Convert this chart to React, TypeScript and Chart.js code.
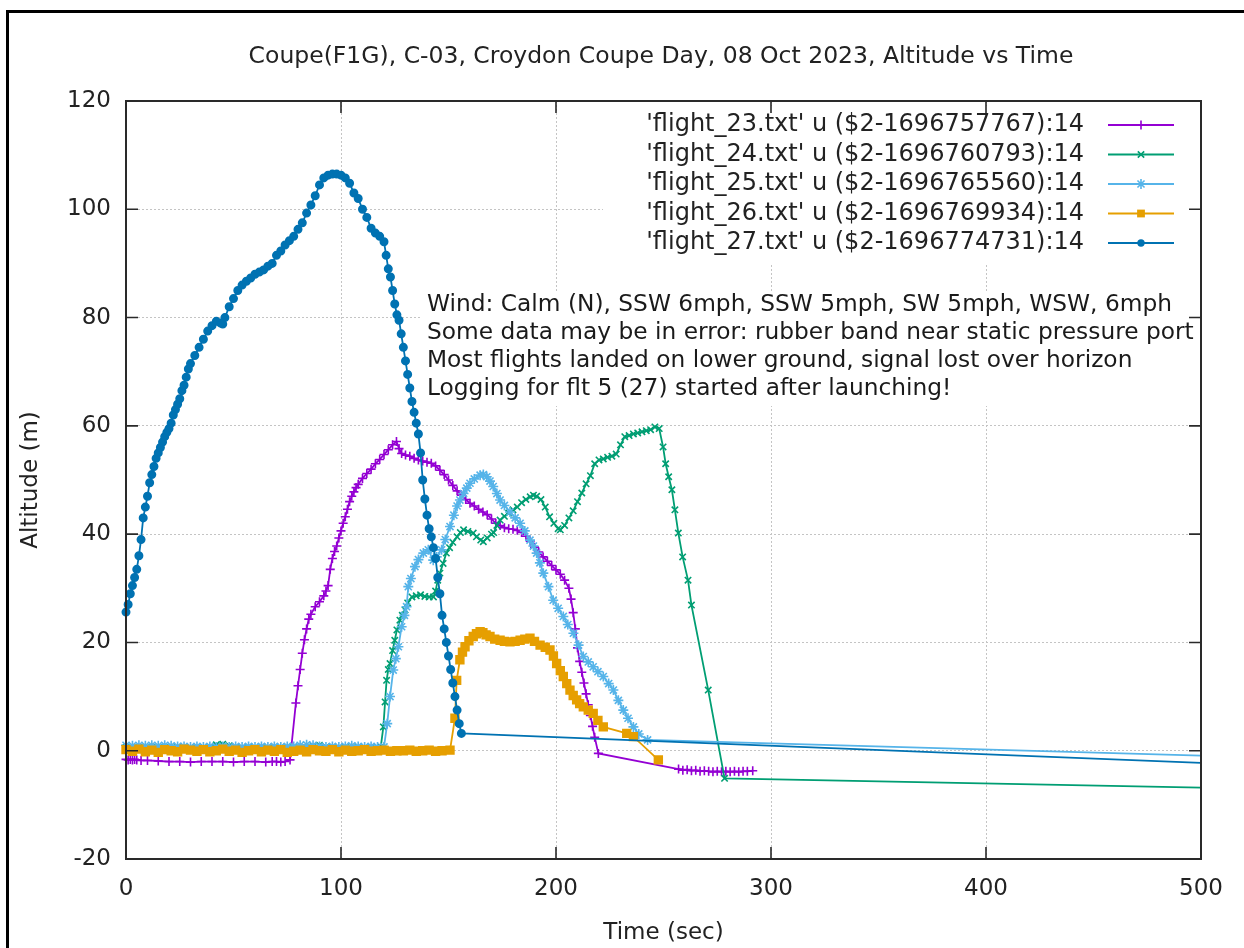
import React, { useEffect, useRef } from 'react';
import { Chart, registerables } from 'chart.js';

Chart.register(...registerables);

const FONT = '"DejaVu Sans", "Liberation Sans", sans-serif';

const titleText = 'Coupe(F1G), C-03, Croydon Coupe Day, 08 Oct 2023, Altitude vs Time';
const xTitle = 'Time (sec)';
const yTitle = 'Altitude (m)';
const noteLines = [
  'Wind: Calm (N), SSW 6mph, SSW 5mph, SW 5mph, WSW, 6mph',
  'Some data may be in error: rubber band near static pressure port',
  'Most flights landed on lower ground, signal lost over horizon',
  'Logging for flt 5 (27) started after launching!',
];
const seriesLabels = [
  "'flight_23.txt' u ($2-1696757767):14",
  "'flight_24.txt' u ($2-1696760793):14",
  "'flight_25.txt' u ($2-1696765560):14",
  "'flight_26.txt' u ($2-1696769934):14",
  "'flight_27.txt' u ($2-1696774731):14",
];
const seriesColors = ['#9400d3', '#009e73', '#56b4e9', '#e69f00', '#0072b2'];
const seriesMarkers = ['cross', 'crossRot', 'star', 'rect', 'circle'];
const markerRadii = [4.5, 4.5, 5, 5.5, 3.7];
const xTicks = [0, 100, 200, 300, 400, 500];
const yTicks = [-20, 0, 20, 40, 60, 80, 100, 120];

// [time (s), altitude (m)]
const flight23: [number, number][] = [
  [0,-1.6],[1,-1.7],[2,-1.6],[3,-1.7],[4,-1.6],[5,-1.7],[7,-1.8],[10,-1.8],[15,-1.9],[20,-2.0],[25,-2.0],[30,-2.1],[35,-2.0],[40,-2.0],[45,-2.0],[50,-2.1],[55,-2.0],[60,-2.0],[65,-2.1],[68,-2.0],[70,-2.0],[72,-2.1],[74,-2.0],[76.3,-1.7],
  [79,8.8],[80,12],[81,15],[82,18],[83,20.5],[84,22.5],[85,24.3],[86,25.2],[88,26.6],[90,27.5],[92,28.6],[93,29.5],[94,30.5],[95,33.5],[96,35.5],[97,36.8],[98,37.8],[99,39.3],[100,40.6],[101,42],[102,43.2],[103,44.6],[104,46],[105,47],[106,47.8],[107,48.6],[108,49.2],[110,50.3],[112,51.2],[114,52],[116,53],[118,53.8],[120,54.7],[122,55.6],[124,56.5],[125.8,57.1],[127,55.8],[128.2,54.9],[130,54.6],[132,54.4],[134,54],[136,53.7],[138,53.5],[140,53.3],[142,53.1],[144,52.6],[146,51.8],[148,51],[150,50],[152,49],[154,48],[156,47.2],[158,46.4],[160,45.7],[162,45.2],[164,44.6],[166,44.1],[168,43.6],[170,42.8],[172,42],[174,41.6],[176,41.2],[178,41],[180,40.9],[182,40.7],[184,40.3],[186,39.6],[188,38.7],[190,37.6],[192,36.7],[194,35.8],[196,35],[198,34.2],[200,33.4],[202,32.6],[204,31.5],[206,30],[207,28],[208,25.5],[209,22.5],[210,19],[211,16.5],[212,14.5],[213,12.5],[214,10.5],[215,8.5],[216,6.5],[217,4.5],[218,2.5],[219.7,-0.5],
  [257,-3.4],[259,-3.6],[261,-3.5],[263,-3.7],[265,-3.6],[267,-3.8],[269,-3.7],[271,-3.8],[273,-3.9],[275,-3.8],[277,-3.9],[279,-3.8],[281,-3.9],[283,-3.8],[285,-3.9],[287,-3.8],[289,-3.8],[291.5,-3.7],
];

const flight24: [number, number][] = [
  [0,0.6],[3,0.5],[6,0.6],[9,0.5],[12,0.6],[15,0.5],[18,0.6],[21,0.5],[24,0.6],[27,0.5],[30,0.6],[33,0.5],[36,0.6],[39,0.7],[42,1.1],[45,1.2],[48,0.9],[51,0.6],[54,0.5],[57,0.6],[60,0.5],[63,0.5],[66,0.6],[69,0.5],[72,0.6],[75,0.5],[78,0.6],[81,0.5],[84,0.6],[87,0.8],[90,1.0],[93,0.7],[96,0.6],[99,0.5],[102,0.6],[105,0.5],[108,0.6],[111,0.5],[114,0.6],[117,0.6],[118.5,0.7],
  [119.7,4.4],[120.5,9],[121.2,13],[122,15],[122.8,16.1],[124,18.5],[125,20.4],[126,22.3],[127.4,24.1],[128.5,25],[129.8,26],[131,27.3],[133,28.4],[135,28.6],[137,28.8],[139,28.5],[141,28.4],[143,28.4],[144,29.5],[145,31.5],[146,32.8],[147.5,34.6],[149,36.5],[150.5,37.5],[152,38.5],[154,39.5],[155.5,40.3],[157,40.8],[159,40.5],[161.5,40.2],[163,39.5],[165,38.9],[166.2,38.6],[168,39.3],[170,40],[171,40.3],[172.5,41.6],[174,42.6],[176,43.3],[178,43.9],[180,44.5],[182,45],[184,45.8],[186,46.4],[188,46.9],[189.5,47.2],[191,47],[193,46.4],[195,45],[197,43.2],[199,42],[201,41],[202,40.8],[204,41.6],[206,43],[208,44.3],[210,46],[212,47.6],[214,49.3],[216,50.8],[218,53],[220,53.7],[222,53.9],[224,54.2],[226,54.4],[228,54.8],[230,56.5],[232,58],[234,58.2],[236,58.5],[238,58.7],[240,58.9],[242,59.1],[244,59.3],[246,59.8],[248,59.5],[249.8,56.1],[251,53],[252.4,50.6],[253.9,48.2],[255.3,44.5],[256.9,40.2],[258.9,35.8],[261.4,31.5],[263,26.9],[270.8,11.2],[278.4,-5.1],
  [650,-7.95],
];

const flight25: [number, number][] = [
  [0,1.0],[3,0.9],[6,1.0],[9,0.9],[12,1.0],[15,0.9],[18,1.0],[21,0.9],[24,0.8],[27,0.8],[30,0.7],[33,0.8],[36,0.7],[39,0.8],[42,0.7],[45,0.8],[48,0.7],[51,0.8],[54,0.7],[57,0.8],[60,0.7],[63,0.8],[66,0.7],[69,0.8],[72,0.7],[75,0.8],[78,0.8],[81,1.0],[84,1.1],[87,1.0],[90,0.8],[93,0.7],[96,0.8],[99,0.7],[102,0.8],[105,0.9],[108,0.8],[111,0.7],[114,0.8],[117,0.7],[120,0.7],
  [121.5,5],[122.8,10],[124.3,14.9],[125.5,17],[126.7,19.2],[128.2,22.9],[129.5,25],[130.5,26.6],[131.3,30.3],[132.5,31.8],[134.4,34],[136,35.3],[138.3,36.5],[140.6,37.1],[142.9,35.2],[144.5,35.8],[146.8,37.1],[148.5,39],[150.7,41.4],[152.5,43.5],[154,45.2],[155.3,46.3],[157,47.5],[158.5,48.5],[160,49.4],[162,50.2],[164.7,50.9],[166.2,51],[167.8,50.6],[169.3,49.8],[170.8,48.8],[172.5,47.5],[174,46.3],[176,45.3],[178.6,44.1],[181,43],[183.3,42],[185.5,40.6],[187.9,38.9],[189.5,37.8],[191,36.5],[192.5,34.7],[194.1,32.8],[196.5,30.3],[198.7,27.8],[201,26.3],[203.4,24.8],[205.5,23.3],[208.1,21.7],[210.5,19.5],[212.7,17.4],[215,16.4],[217.3,15.5],[219.5,14.6],[222,13.7],[224.5,12.4],[226.7,11.2],[229,9.3],[231.3,7.5],[233.5,6],[236,4.4],[238.5,3.1],[242.6,2.0],
  [650,-2.6],
];

const flight26: [number, number][] = [
  [0,0.2],[3,-0.1],[6,0.3],[9,-0.2],[12,0.1],[15,-0.3],[18,0.2],[21,0.0],[24,-0.2],[27,0.3],[30,0.1],[33,-0.1],[36,0.2],[39,-0.2],[42,0.0],[45,0.3],[48,-0.1],[51,0.1],[54,-0.3],[57,0.0],[60,0.2],[63,-0.2],[66,0.1],[69,-0.1],[72,0.2],[75,-0.3],[78,-0.1],[81,0.1],[84,-0.2],[87,0.2],[90,0.0],[93,-0.1],[96,0.2],[99,-0.2],[102,0.1],[105,-0.1],[108,0.0],[111,0.2],[114,-0.1],[117,0.0],[120,0.1],[123,-0.1],[126,0.0],[129,0.0],[132,0.1],[135,-0.1],[138,0.0],[141,0.1],[144,-0.1],[147,0.0],[150.7,0.1],
  [153,6],[153.8,13],[155.3,16.8],[156.5,18.2],[157.7,19.2],[159.5,20.3],[161.5,21.1],[163,21.6],[164.7,22],[166,21.8],[167.5,21.4],[169.3,21.1],[171.5,20.6],[174,20.4],[176,20.2],[178.6,20.1],[181,20.2],[183.3,20.4],[185.5,20.6],[187.9,20.8],[190,20.2],[192.6,19.5],[195,19.1],[197.2,18.6],[198.8,17.5],[200.3,16.1],[202,14.8],[203.4,13.7],[205,12.4],[206.5,11.2],[208,10.2],[209.6,9.4],[211,8.7],[212.7,8.1],[215,7.5],[217.3,6.9],[219.5,5.6],[222,4.4],[232.9,3.2],[236,2.6],[247.6,-1.7],
];

const flight27: [number, number][] = [
  [0,25.6],[1,27],[2,29],[3,30.5],[4,32],[5,33.5],[6,36],[7,39],[8,43],[9,45],[10,47],[11,49.5],[12,51],[13,52.5],[14,54],[15,55],[16,56],[17,57],[18,58],[19,58.8],[20,59.5],[21,60.5],[22,62],[23,63],[24,64],[25,65],[26,66.5],[27,67.5],[28,69],[29,70.5],[30,71.5],[32,73],[34,74.5],[36,76],[38,77.5],[40,78.5],[42,79.3],[44,79],[45,78.8],[46,80],[48,82],[50,83.5],[52,85],[54,86],[56,86.7],[58,87.3],[60,88],[62,88.4],[64,88.8],[66,89.5],[68,90],[70,91.5],[72,92.3],[74,93.4],[76,94.2],[78,95],[80,96.3],[82,97.5],[84,99.3],[86,100.8],[88,102.5],[90,104.5],[92,105.8],[94,106.3],[96,106.5],[98,106.5],[100,106.3],[102,105.8],[104,104.8],[106,103],[108,102],[110,100],[112,98.5],[114,96.5],[116,95.6],[118,95],[120,94],
  [121,91.5],[122,89],[123,87.5],[124,85],[125,82.5],[126,80.5],[127,79.5],[128,77],[129,74.5],[130,72],[131,69.5],[132,67],[133,64.5],[134,62.5],[135,60.5],[136,58.5],[137,55],[138,50],[139,46.5],[140,43.5],[141,41],[142,39.5],[143,37.5],[144,35.5],[145,32],[146,29],[147,25],[148,22.5],[149,20],[150,17.5],[151,15],[152,12.5],[153,10],[154,7.5],[155,5],[156,3.2],
  [650,-4.6],
];

const flights = [flight23, flight24, flight25, flight26, flight27];

function drawMarker(ctx: CanvasRenderingContext2D, style: string, x: number, y: number, r: number, color: string) {
  ctx.save();
  ctx.strokeStyle = color;
  ctx.fillStyle = color;
  ctx.lineWidth = 1.6;
  ctx.beginPath();
  if (style === 'cross' || style === 'star') {
    ctx.moveTo(x - r, y); ctx.lineTo(x + r, y);
    ctx.moveTo(x, y - r); ctx.lineTo(x, y + r);
  }
  if (style === 'crossRot' || style === 'star') {
    const d = r * Math.SQRT1_2;
    ctx.moveTo(x - d, y - d); ctx.lineTo(x + d, y + d);
    ctx.moveTo(x - d, y + d); ctx.lineTo(x + d, y - d);
  }
  ctx.stroke();
  if (style === 'rect') {
    const s = r * Math.SQRT1_2;
    ctx.fillRect(x - s, y - s, 2 * s, 2 * s);
  }
  if (style === 'circle') {
    ctx.beginPath();
    ctx.arc(x, y, r, 0, Math.PI * 2);
    ctx.fill();
  }
  ctx.restore();
}

const decorPlugin = {
  id: 'decor',
  beforeDatasetsDraw(chart: any) {
    const ctx = chart.ctx as CanvasRenderingContext2D;
    ctx.save();
    ctx.fillStyle = '#ffffff';
    ctx.fillRect(603, 106, 596, 157);
    ctx.fillRect(420, 291, 779, 115);
    ctx.restore();
  },
  afterDraw(chart: any) {
    const ctx = chart.ctx as CanvasRenderingContext2D;
    const a = chart.chartArea;
    const sx = chart.scales.x;
    const sy = chart.scales.y;
    ctx.save();
    // plot frame
    ctx.strokeStyle = '#2a2a2a';
    ctx.lineWidth = 2;
    ctx.strokeRect(a.left, a.top, a.right - a.left, a.bottom - a.top);
    // inward tick marks (mirrored)
    ctx.lineWidth = 1.6;
    ctx.beginPath();
    for (const v of xTicks) {
      const px = sx.getPixelForValue(v);
      ctx.moveTo(px, a.bottom); ctx.lineTo(px, a.bottom - 12);
      ctx.moveTo(px, a.top); ctx.lineTo(px, a.top + 12);
    }
    for (const v of yTicks) {
      const py = sy.getPixelForValue(v);
      ctx.moveTo(a.left, py); ctx.lineTo(a.left + 12, py);
      ctx.moveTo(a.right, py); ctx.lineTo(a.right - 12, py);
    }
    ctx.stroke();

    // outer picture frame
    ctx.fillStyle = '#000';
    ctx.fillRect(6, 10, 1238, 3);
    ctx.fillRect(6, 10, 3, 938);

    // title
    ctx.fillStyle = '#222';
    ctx.font = `23.5px ${FONT}`;
    ctx.textAlign = 'center';
    ctx.textBaseline = 'middle';
    ctx.fillText(titleText, 661, 57);

    // axis titles
    ctx.font = `23px ${FONT}`;
    ctx.fillText(xTitle, (a.left + a.right) / 2, 933);
    ctx.save();
    ctx.translate(31, (a.top + a.bottom) / 2);
    ctx.rotate(-Math.PI / 2);
    ctx.fillText(yTitle, 0, 0);
    ctx.restore();

    // legend
    ctx.font = `24px ${FONT}`;
    ctx.textAlign = 'right';
    for (let i = 0; i < seriesLabels.length; i++) {
      const y = 125 + i * 29.5;
      ctx.fillStyle = '#222';
      ctx.fillText(seriesLabels[i], 1084, y);
      ctx.strokeStyle = seriesColors[i];
      ctx.lineWidth = 1.8;
      ctx.beginPath();
      ctx.moveTo(1108, y); ctx.lineTo(1174, y);
      ctx.stroke();
      drawMarker(ctx, seriesMarkers[i], 1141, y, markerRadii[i], seriesColors[i]);
    }

    // notes
    ctx.font = `23.3px ${FONT}`;
    ctx.textAlign = 'left';
    ctx.fillStyle = '#1a1a1a';
    for (let i = 0; i < noteLines.length; i++) {
      ctx.fillText(noteLines[i], 427, 305 + i * 28);
    }
    ctx.restore();
  },
};

export default function App() {
  const ref = useRef<HTMLCanvasElement>(null);
  useEffect(() => {
    const datasets = flights.map((f, i) => ({
      label: seriesLabels[i],
      data: f.map(([x, y]) => ({ x, y })),
      showLine: true,
      borderColor: seriesColors[i],
      backgroundColor: seriesColors[i],
      borderWidth: 1.8,
      pointStyle: seriesMarkers[i],
      pointRadius: markerRadii[i],
      pointBorderWidth: 1.6,
      pointBackgroundColor: seriesColors[i],
      pointBorderColor: seriesColors[i],
      tension: 0,
      order: 4 - i,
      clip: { left: 6, top: 6, right: 0, bottom: 6 },
    }));
    const gridOpts = { color: '#c4c4c4', lineWidth: 1, drawTicks: false };
    const chart = new Chart(ref.current as HTMLCanvasElement, {
      type: 'scatter',
      data: { datasets } as any,
      options: {
        responsive: false,
        animation: false,
        events: [],
        layout: { padding: { left: 0, top: 101, right: 43, bottom: 0 } },
        plugins: {
          legend: { display: false },
          title: { display: false },
          tooltip: { enabled: false },
        },
        scales: {
          x: {
            type: 'linear',
            min: 0,
            max: 500,
            afterFit: (s: any) => { s.height = 89; },
            ticks: { stepSize: 100, font: { family: FONT, size: 23 }, color: '#222', padding: 16, maxRotation: 0 },
            grid: gridOpts,
            border: { display: false, dash: [2, 2] },
          },
          y: {
            type: 'linear',
            min: -20,
            max: 120,
            afterFit: (s: any) => { s.width = 126; },
            ticks: { stepSize: 20, font: { family: FONT, size: 23 }, color: '#222', padding: 15 },
            grid: gridOpts,
            border: { display: false, dash: [2, 2] },
          },
        },
      } as any,
      plugins: [decorPlugin],
    });
    return () => chart.destroy();
  }, []);
  return (
    <div style={{ position: 'fixed', left: 0, top: 0, width: 1244, height: 948, background: '#fff' }}>
      <canvas ref={ref} width={1244} height={948} style={{ display: 'block', width: 1244, height: 948 }} />
    </div>
  );
}
